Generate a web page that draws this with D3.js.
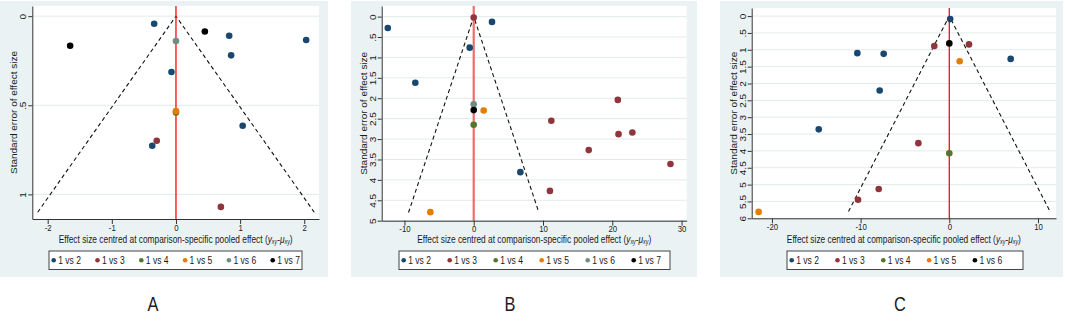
<!DOCTYPE html>
<html lang="en">
<head>
<meta charset="UTF-8">
<title>Comparison-adjusted funnel plots</title>
<script src="https://d3js.org/d3.v7.min.js"></script>
<style>
  body { margin: 0; background: #fff; }
  svg text { font-family: "Liberation Sans", Arial, sans-serif; fill: #1a1a1a; }
</style>
</head>
<body>
<svg id="chart" width="1065" height="335"></svg>
<script>
// ---- data ----
const seriesA = ["1 vs 2", "1 vs 3", "1 vs 4", "1 vs 5", "1 vs 6", "1 vs 7"];
const seriesB = ["1 vs 2", "1 vs 3", "1 vs 4", "1 vs 5", "1 vs 6", "1 vs 7"];
const seriesC = ["1 vs 2", "1 vs 3", "1 vs 4", "1 vs 5", "1 vs 6"];

// effect centred at comparison-specific pooled effect, its standard error, series index
const effectA = [-0.34, 0.83, 2.03, 0.86, -0.07, 1.04, -0.37, -0.30, 0.70, 0, 0, 0, 0.45, -1.65];
const seA     = [0.043, 0.11, 0.134, 0.22, 0.313, 0.615, 0.727, 0.699, 1.07, 0.54, 0.533, 0.14, 0.086, 0.166];
const groupA  = [0, 0, 0, 0, 0, 0, 0, 1, 1, 2, 3, 4, 5, 5];

const effectB = [2.64, -12.4, -0.58, -8.43, 6.73, 0, 20.8, 11.2, 22.9, 20.9, 16.6, 28.4, 11.0, 0, 1.44, -6.26, 0, 0];
const seB     = [0.13, 0.28, 0.76, 1.62, 3.81, 0.02, 2.04, 2.55, 2.84, 2.88, 3.27, 3.61, 4.27, 2.65, 2.30, 4.79, 2.15, 2.29];
const groupB  = [0, 0, 0, 0, 0, 1, 1, 1, 1, 1, 1, 1, 1, 2, 3, 3, 4, 5];

const effectC = [0.1, -10.37, -7.40, 6.92, -7.85, -14.72, 2.22, -1.69, -3.49, -7.96, -10.29, 0, 1.17, -21.5, 0];
const seC     = [0.09, 1.10, 1.12, 1.27, 2.21, 3.36, 0.84, 0.89, 3.77, 5.13, 5.45, 4.07, 1.34, 5.81, 0.81];
const groupC  = [0, 0, 0, 0, 0, 0, 1, 1, 1, 1, 1, 2, 3, 3, 4];

// funnel depth (largest standard error of the pseudo 95% limits)
const funnelA = 1.1, funnelB = 4.8, funnelC = 5.8;

// axis ticks
const xTicksA = [-2, -1, 0, 1, 2];
const yTicksA = [0, 0.5, 1];
const xTicksB = [-10, 0, 10, 20, 30];
const yTicksB = [0, 0.5, 1, 1.5, 2, 2.5, 3, 3.5, 4, 4.5, 5];
const xTicksC = [-20, -10, 0, 10];
const yTicksC = [0, 0.5, 1, 1.5, 2, 2.5, 3, 3.5, 4, 4.5, 5, 5.5, 6];

const panelLabels = ["A", "B", "C"];

// ---- styles ----
const colorsA = ["#1a476f", "#90353b", "#55752f", "#e37e00", "#6e8e84", "#000000"];
const colorsC = ["#1a476f", "#90353b", "#55752f", "#e37e00", "#000000"];
const BG = "#eaf2f3";
const SQ = 0.82; // horizontal squeeze of the original image

const svg = d3.select("#chart");

const panels = [
  { label: panelLabels[0], bg: [0, 328], labelX: 153,
    xDomain: [-2.24, 2.23], yDomain: [-0.057, 1.138], left: 32.3, right: 319, top: 6, bottom: 219,
    eff: effectA, se: seA, grp: groupA, names: seriesA, colors: colorsA, funnel: funnelA,
    xTicks: xTicksA, yTicks: yTicksA, grid: yTicksA,
    redColor: "#ff1a1a", redWidth: 1.4,
    legend: { x: 49, w: 253, step: 43.8 } },
  { label: panelLabels[1], bg: [351, 697], labelX: 510,
    xDomain: [-13.28, 30.74], yDomain: [-0.26, 5], left: 381.7, right: 686.7, top: 6, bottom: 220.7,
    eff: effectB, se: seB, grp: groupB, names: seriesB, colors: colorsA, funnel: funnelB,
    xTicks: xTicksB, yTicks: yTicksB, grid: yTicksB,
    redColor: "#f26b6b", redWidth: 2.2,
    legend: { x: 399, w: 271, step: 46 } },
  { label: panelLabels[2], bg: [720, 1063], labelX: 900,
    xDomain: [-22.28, 12.03], yDomain: [-0.24, 6], left: 751.7, right: 1056, top: 8, bottom: 218.3,
    eff: effectC, se: seC, grp: groupC, names: seriesC, colors: colorsC, funnel: funnelC,
    xTicks: xTicksC, yTicks: yTicksC, grid: yTicksC,
    redColor: "#ff1a1a", redWidth: 1.4,
    legend: { x: 787, w: 236, step: 45.8 } }
];

const stataFmt = d => String(d).replace(/^0\./, ".").replace(/^-0\./, "-.");

panels.forEach(p => {
  const g = svg.append("g");

  // graph region
  g.append("rect")
    .attr("x", p.bg[0]).attr("y", 1)
    .attr("width", p.bg[1] - p.bg[0]).attr("height", 276)
    .attr("fill", BG);

  const x = d3.scaleLinear().domain(p.xDomain).range([p.left, p.right]);
  const y = d3.scaleLinear().domain(p.yDomain).range([p.top, p.bottom]);

  // plot region
  g.append("rect")
    .attr("x", p.left).attr("y", p.top)
    .attr("width", p.right - p.left).attr("height", p.bottom - p.top)
    .attr("fill", "#fff");

  // gridlines
  g.append("g").selectAll("line")
    .data(p.grid)
    .join("line")
    .attr("x1", p.left).attr("x2", p.right)
    .attr("y1", d => y(d)).attr("y2", d => y(d))
    .attr("stroke", "#e2eaec").attr("stroke-width", 1);

  // pseudo 95% confidence limits
  const m = p.funnel;
  g.append("path")
    .datum([[-1.96 * m, m], [0, 0], [1.96 * m, m]])
    .attr("d", d3.line().x(d => x(d[0])).y(d => y(d[1])))
    .attr("fill", "none")
    .attr("stroke", "#111")
    .attr("stroke-width", 1.1)
    .attr("stroke-dasharray", "4,3");

  // zero line
  g.append("line")
    .attr("x1", x(0)).attr("x2", x(0))
    .attr("y1", p.top).attr("y2", p.bottom)
    .attr("stroke", p.redColor).attr("stroke-width", p.redWidth);

  // points
  g.append("g").selectAll("circle")
    .data(p.eff.map((e, i) => ({ e: e, se: p.se[i], k: p.grp[i] })))
    .join("circle")
    .attr("cx", d => x(d.e))
    .attr("cy", d => y(d.se))
    .attr("r", 3.3)
    .attr("fill", d => p.colors[d.k]);

  // y axis
  const ya = g.append("g")
    .attr("transform", `translate(${p.left},0)`)
    .call(d3.axisLeft(y).tickValues(p.yTicks).tickFormat(stataFmt).tickSize(4).tickSizeOuter(0));
  ya.selectAll("text")
    .attr("x", 0).attr("y", 0).attr("dy", 0)
    .attr("text-anchor", "middle")
    .attr("font-size", 10)
    .attr("transform", `translate(-6,0) rotate(-90) scale(1,${SQ})`);

  // x axis
  const xa = g.append("g")
    .attr("transform", `translate(0,${p.bottom})`)
    .call(d3.axisBottom(x).tickValues(p.xTicks).tickFormat(stataFmt).tickSize(5).tickPadding(0).tickSizeOuter(0));
  xa.selectAll("text")
    .attr("font-size", 9.5)
    .attr("transform", `scale(${SQ},1)`);
  [ya, xa].forEach(a => {
    a.select(".domain").attr("stroke", "#333");
    a.selectAll(".tick line").attr("stroke", "#333");
  });

  // y title
  g.append("text")
    .attr("transform", `translate(${p.left - 15},${(p.top + p.bottom) / 2}) rotate(-90) scale(1,${SQ})`)
    .attr("text-anchor", "middle")
    .attr("font-size", 10)
    .text("Standard error of effect size");

  // x title
  const xt = g.append("text")
    .attr("transform", `translate(${(p.left + p.right) / 2},242.8) scale(${SQ},1)`)
    .attr("text-anchor", "middle")
    .attr("font-size", 10.2);
  xt.append("tspan").text("Effect size centred at comparison-specific pooled effect (");
  xt.append("tspan").attr("font-style", "italic").text("y");
  xt.append("tspan").attr("font-size", 6.5).attr("font-style", "italic").attr("dy", 1.5).text("xy");
  xt.append("tspan").attr("dy", -1.5).text("-");
  xt.append("tspan").attr("font-style", "italic").text("\u03bc");
  xt.append("tspan").attr("font-size", 6.5).attr("font-style", "italic").attr("dy", 1.5).text("xy");
  xt.append("tspan").attr("dy", -1.5).text(")");

  // legend
  const L = p.legend;
  g.append("rect")
    .attr("x", L.x).attr("y", 251)
    .attr("width", L.w).attr("height", 18.5)
    .attr("fill", "#fff")
    .attr("stroke", "#444").attr("stroke-width", 1);
  const items = g.append("g").selectAll("g")
    .data(p.names)
    .join("g")
    .attr("transform", (d, i) => `translate(${L.x + 4.7 + i * L.step},260.2)`);
  items.append("circle")
    .attr("r", 2.3)
    .attr("fill", (d, i) => p.colors[i]);
  items.append("text")
    .attr("transform", `translate(4.5,3.6) scale(${SQ},1)`)
    .attr("font-size", 10.4)
    .text(d => d);

  // panel letter
  svg.append("text")
    .attr("transform", `translate(${p.labelX},311) scale(${SQ},1)`)
    .attr("text-anchor", "middle")
    .attr("font-size", 20)
    .text(p.label);
});
</script>
</body>
</html>
